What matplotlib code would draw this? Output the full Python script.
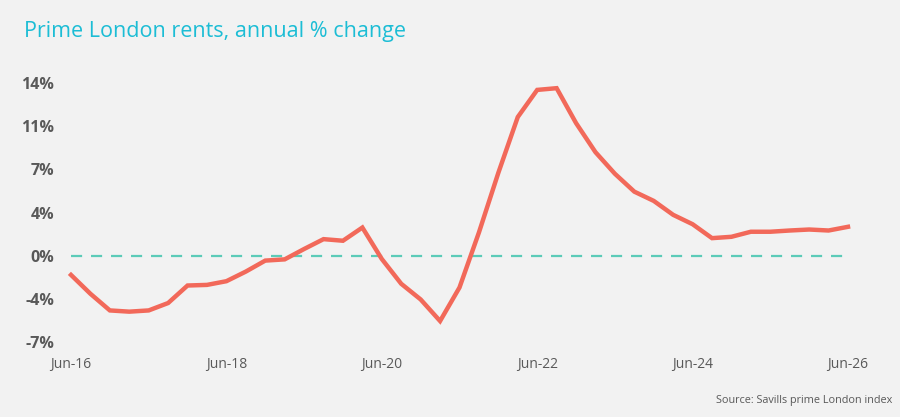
import matplotlib
matplotlib.use("Agg")
import matplotlib.pyplot as plt
from matplotlib.ticker import FuncFormatter

quarters = list(range(41))
rent_change = [-1.56, -3.09, -4.44, -4.54, -4.44, -3.84, -2.42, -2.37, -2.07, -1.29,
               -0.40, -0.30, 0.54, 1.34, 1.21, 2.28, -0.27, -2.28, -3.55, -5.30,
               -2.58, 1.88, 6.72, 11.24, 13.44, 13.58, 10.75, 8.39, 6.64, 5.19,
               4.44, 3.31, 2.55, 1.42, 1.53, 1.94, 1.94, 2.04, 2.12, 2.04, 2.34]
xtick_pos = [0, 8, 16, 24, 32, 40]
xtick_labels = ["Jun-16", "Jun-18", "Jun-20", "Jun-22", "Jun-24", "Jun-26"]
ytick_vals = [-7, -3.5, 0, 3.5, 7, 10.5, 14]

plt.rcParams['font.family'] = ['Open Sans', 'DejaVu Sans']
W, H = 900, 417
fig = plt.figure(figsize=(9, 4.17), dpi=100, facecolor="#F2F2F2")
ax = fig.add_axes([71 / W, 1 - 342 / H, (848 - 71) / W, (342 - 83) / H])
ax.set_facecolor("#F2F2F2")

ax.plot([0, 40], [0, 0], color="#5CCBB8", lw=1.6, dashes=(5, 4), clip_on=False, zorder=2)
ax.plot(quarters, rent_change, color="#F2695A", lw=3.2, clip_on=False, zorder=3,
        solid_joinstyle="miter")

ax.set_xlim(0, 40)
ax.set_ylim(-7, 14)
ax.set_xticks(xtick_pos)
ax.set_xticklabels(xtick_labels, fontsize=10, color="#595959")
ax.set_yticks(ytick_vals)
ax.yaxis.set_major_formatter(FuncFormatter(lambda v, p: f"{int(round(v + (0.001 if v > 0 else -0.001)))}%"))
for lbl in ax.get_yticklabels():
    lbl.set_fontweight("bold")
    lbl.set_fontsize(11.5)
    lbl.set_color("#595959")
ax.tick_params(axis="both", length=0)
ax.tick_params(axis="y", pad=12)
ax.tick_params(axis="x", pad=11)
for s in ax.spines.values():
    s.set_visible(False)

fig.text(24 / W, 1 - 32 / H, "Prime London rents, annual % change", fontsize=15.5,
         color="#1CBDD5", ha="left", va="center")
fig.text(892 / W, 1 - 401 / H, "Source: Savills prime London index", fontsize=7.8,
         color="#595959", ha="right", va="center")

fig.savefig("out.png", dpi=100, facecolor="#F2F2F2")
